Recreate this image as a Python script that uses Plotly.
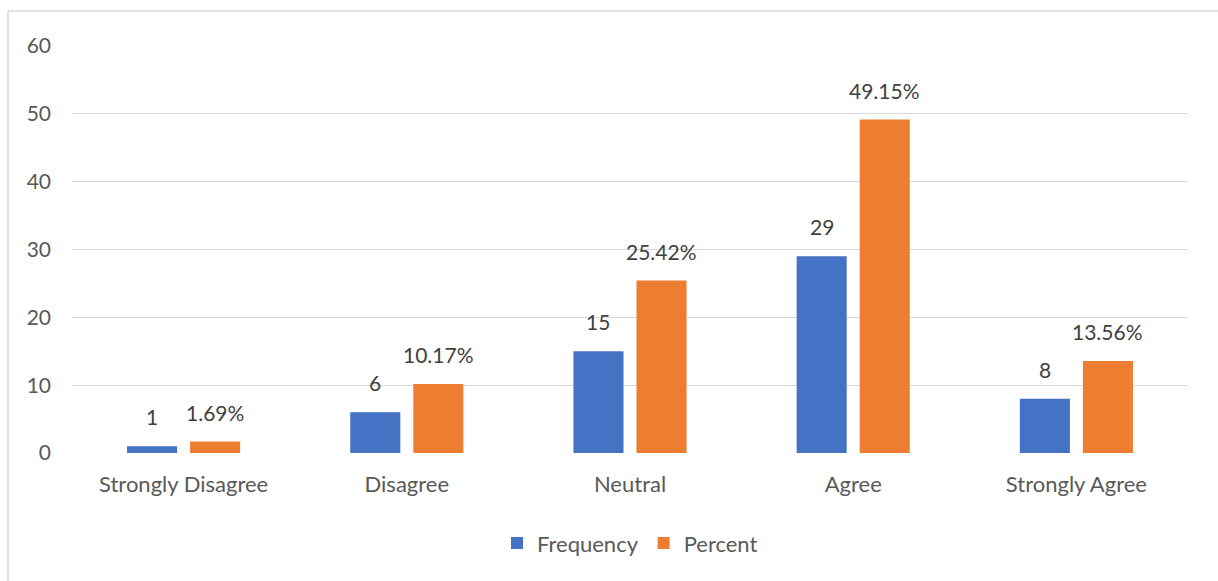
import plotly.graph_objects as go

categories = ["Strongly Disagree", "Disagree", "Neutral", "Agree", "Strongly Agree"]
frequency = [1, 6, 15, 29, 8]
percent = [1.69, 10.17, 25.42, 49.15, 13.56]
freq_labels = ["1", "6", "15", "29", "8"]
pct_labels = ["1.69%", "10.17%", "25.42%", "49.15%", "13.56%"]
y_ticks = [0, 10, 20, 30, 40, 50, 60]

FONT = "Lato, Open Sans, sans-serif"
W, H = 1218, 581
L, R, T, B = 72, 30, 46, 128
pw, ph = W - L - R, H - T - B

BARGAP = 0.435
GROUPGAP = 0.206
cat_w = pw / len(categories)
slot = cat_w * (1 - BARGAP) / 2

fig = go.Figure()
fig.add_trace(go.Bar(name="Frequency", x=categories, y=frequency, marker_color="#4472C4",
                     marker_line_width=0))
fig.add_trace(go.Bar(name="Percent", x=categories, y=percent, marker_color="#ED7D31",
                     marker_line_width=0))

# data labels placed at data coordinates, shifted to each bar of the group
for vals, labs, sign in [(frequency, freq_labels, -1), (percent, pct_labels, 1)]:
    for c, v, lab in zip(categories, vals, labs):
        fig.add_annotation(x=c, y=v, xref="x", yref="y", text=lab, showarrow=False,
                           xshift=sign * slot / 2, yshift=15, yanchor="bottom",
                           font=dict(family=FONT, size=21, color="#404040"))

# chart border (left and top edges visible)
x0 = (8 - L) / pw
x1 = (W + 20 - L) / pw
y1 = 1 + (T - 11) / ph
y0 = 1 - (H + 20 - T) / ph
fig.add_shape(type="rect", xref="paper", yref="paper", x0=x0, x1=x1, y0=y0, y1=y1,
              line=dict(color="#D9D9D9", width=1.5), fillcolor="rgba(0,0,0,0)", layer="below")

fig.update_layout(
    width=W, height=H,
    margin=dict(l=L, r=R, t=T, b=B, pad=0),
    paper_bgcolor="white", plot_bgcolor="white",
    barmode="group", bargap=BARGAP, bargroupgap=GROUPGAP,
    font=dict(family=FONT, color="#595959", size=21),
    showlegend=True,
    legend=dict(orientation="h", x=0.5, xanchor="center", y=-0.17, yanchor="top",
                font=dict(size=22, color="#595959", family=FONT), itemwidth=30,
                traceorder="normal"),
)
fig.update_yaxes(range=[0, 60], tickvals=y_ticks, showgrid=True, gridcolor="#D9D9D9",
                 gridwidth=1.3, zeroline=False, showline=False, ticks="",
                 ticklabelstandoff=20, tickfont=dict(size=21, color="#595959", family=FONT))
fig.update_xaxes(showgrid=False, showline=False, ticks="", zeroline=False,
                 ticklabelstandoff=16, tickfont=dict(size=22, color="#595959", family=FONT))

fig.write_html("out.html")
